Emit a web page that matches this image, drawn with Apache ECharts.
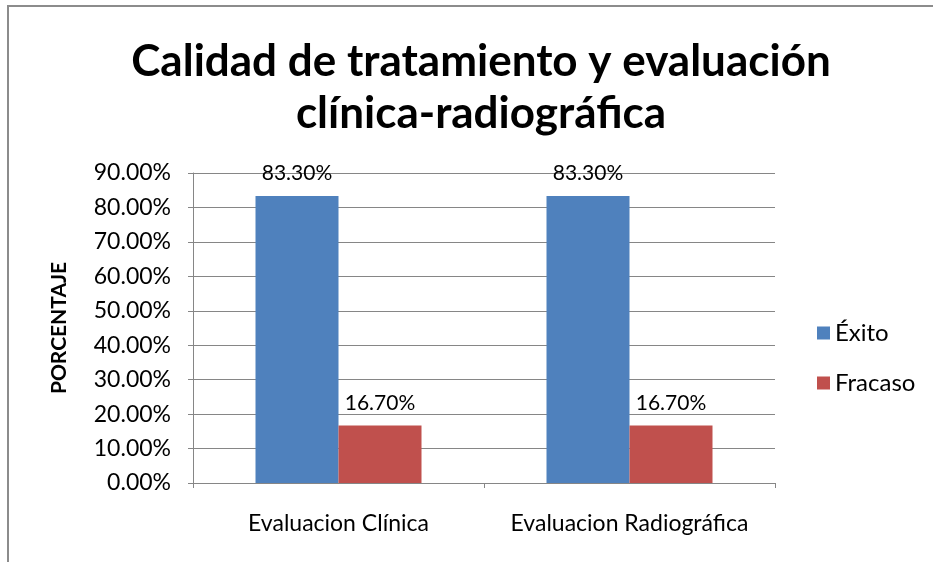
<!DOCTYPE html>
<html>
<head>
<meta charset="utf-8">
<style>
  html, body { margin: 0; padding: 0; background: #fff; }
  #frame { position: absolute; left: 7px; top: 5px; width: 940px; height: 570px; border: 2px solid #8c8c8c; box-sizing: border-box; }
  #chart { position: absolute; left: 0; top: 0; width: 933px; height: 562px; }
</style>
<script src="https://cdn.jsdelivr.net/npm/echarts@6/dist/echarts.min.js"></script>
</head>
<body>
<div id="frame"></div>
<div id="chart"></div>
<script>
const categories = ['Evaluacion Clínica', 'Evaluacion Radiográfica']
const exito = [0.833, 0.833]
const fracaso = [0.167, 0.167]

const font = 'Lato, "Open Sans", sans-serif'
const pct = (v) => (v * 100).toFixed(2) + '%'

const chart = echarts.init(document.getElementById('chart'))
chart.setOption({
  animation: false,
  textStyle: { fontFamily: font },
  title: {
    text: 'Calidad de tratamiento y evaluación\nclínica-radiográfica',
    left: 476,
    top: 31,
    textAlign: 'center',
    textStyle: { fontSize: 44, fontWeight: 'bold', color: '#000', lineHeight: 52, fontFamily: font }
  },
  legend: {
    orient: 'vertical',
    left: 812,
    top: 316,
    itemWidth: 13,
    itemHeight: 13,
    itemGap: 26,
    icon: 'rect',
    textStyle: { fontSize: 24, color: '#000', fontFamily: font },
    data: ['Éxito', 'Fracaso']
  },
  grid: { left: 193, right: 158, top: 173, bottom: 79 },
  xAxis: {
    type: 'category',
    data: categories,
    axisLine: { lineStyle: { color: '#868686' } },
    axisTick: { show: true, length: 5, lineStyle: { color: '#868686' } },
    axisLabel: { interval: 0, hideOverlap: false, fontSize: 23, color: '#000', margin: 29, fontFamily: font }
  },
  yAxis: {
    type: 'value',
    min: 0,
    max: 0.9,
    interval: 0.1,
    name: 'PORCENTAJE',
    nameLocation: 'middle',
    nameGap: 123,
    nameRotate: 90,
    nameTextStyle: { fontSize: 21, fontWeight: 'bold', color: '#000', fontFamily: font },
    axisLine: { show: true, lineStyle: { color: '#868686' } },
    axisTick: { show: true, length: 5, lineStyle: { color: '#868686' } },
    axisLabel: { fontSize: 23, color: '#000', margin: 22, formatter: pct, fontFamily: font },
    splitLine: { lineStyle: { color: '#868686' } }
  },
  series: [
    {
      name: 'Éxito',
      type: 'bar',
      data: exito,
      barWidth: 83,
      barGap: '0%',
      itemStyle: { color: '#4f81bd' },
      label: { show: true, position: 'top', distance: 12, fontSize: 21, color: '#000', formatter: (p) => pct(p.value), fontFamily: font }
    },
    {
      name: 'Fracaso',
      type: 'bar',
      data: fracaso,
      barWidth: 83,
      itemStyle: { color: '#c0504d' },
      label: { show: true, position: 'top', distance: 12, fontSize: 21, color: '#000', formatter: (p) => pct(p.value), fontFamily: font }
    }
  ]
})
</script>
</body>
</html>
